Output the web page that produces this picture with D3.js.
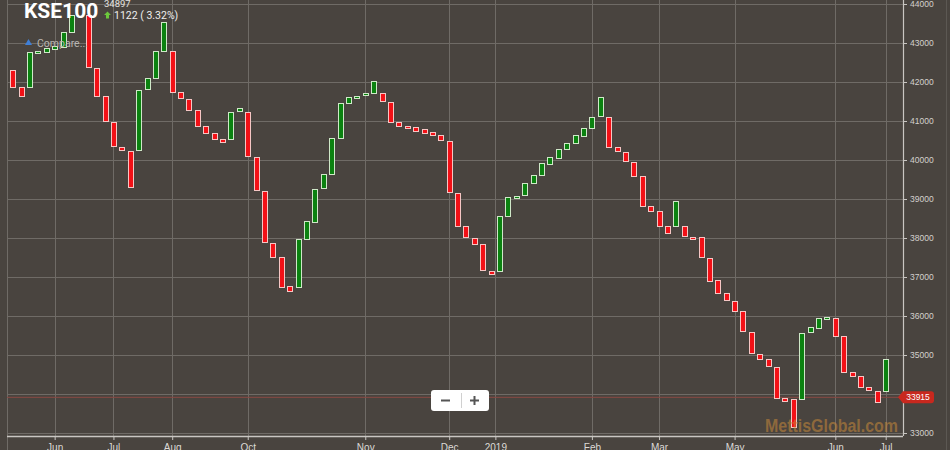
<!DOCTYPE html>
<html>
<head>
<meta charset="utf-8">
<script src="https://cdn.jsdelivr.net/npm/d3@7"></script>
<style>
  html, body { margin: 0; padding: 0; background: #48443f; }
  svg { display: block; }
</style>
</head>
<body>
<svg id="chart" width="950" height="450"></svg>
<script>
// ---- data (slot -1 .. 104; null = empty slot) ----
const opens = [42487, 42308, 41872, 41872, 42760, 42769, 42846, 42897, 43282, null,
  43718, 42359, 41641, 40974, 40333, 40231, 40256, 41821, 42103, 42795,
  42795, 41744, 41564, 41282, 40872, 40692, 40538, 40538, 41256, 41231,
  40077, 39205, 37872, 37513, 36769, 36744, 37974, 38410, 39282, 39641,
  40564, 41462, 41590, 41667, 41718, 41718, 41487, 40974, 40872, 40846,
  40795, 40718, 40641, 40487, 39154, 38308, 38000, 37846, 37154, 37154,
  38564, 39026, 39103, 39410, 39615, 39897, 40051, 40282, 40436, 40615,
  40821, 41128, 41103, 40333, 40205, 39949, 39590, 38821, 38692, 38308,
  38308, 38308, 38026, 38026, 37487, 36923, 36590, 36385, 36128, 35590,
  35026, 34897, 34692, 33897, 33872, 33872, 35590, 35692, 35923, 35949,
  35487, 34564, 34462, 34179, 34077, 34077];
const closes = [42308, 41872, 41641, 42769, 42800, 42872, 42923, 43282, 43718, null,
  42385, 41641, 41000, 40359, 40256, 39308, 41795, 42103, 42795, 43538,
  41744, 41590, 41282, 40872, 40692, 40538, 40462, 41231, 41333, 40103,
  39231, 37897, 37513, 36744, 36641, 37974, 38436, 39256, 39641, 40564,
  41462, 41615, 41641, 41718, 42026, 41513, 40974, 40872, 40821, 40744,
  40692, 40641, 40513, 39179, 38308, 38026, 37846, 37179, 37077, 38564,
  39051, 39077, 39410, 39615, 39923, 40077, 40282, 40436, 40641, 40821,
  41103, 41615, 40333, 40231, 39974, 39590, 38821, 38692, 38308, 38128,
  38949, 38051, 37974, 37513, 36897, 36590, 36410, 36128, 35615, 35051,
  34897, 34718, 33897, 33821, 33154, 35564, 35718, 35949, 35974, 35487,
  34564, 34462, 34179, 34103, 33795, 34897];
const firstSlot = -1;
const lastSlot = 104;

const tickSlots = [5, 12, 19, 28, 42, 52, 57.5, 69, 77, 86, 98, 104];
const tickLabels = ["Jun", "Jul", "Aug", "Oct", "Nov", "Dec", "2019", "Feb", "Mar", "May", "Jun", "Jul"];
const yTicks = [33000, 34000, 35000, 36000, 37000, 38000, 39000, 40000, 41000, 42000, 43000, 44000];

const title = "KSE100";
const lastValue = 34897;
const changeText = "1122 ( 3.32%)";
const priceLineValue = 33915;
const watermark = "MettisGlobal.com";

// ---- layout ----
const W = 950, H = 450;
const plot = { left: 7, right: 903, top: 0, bottom: 436 };

const svg = d3.select("#chart");
svg.append("rect").attr("width", W).attr("height", H).attr("fill", "#49443f");

const x = d3.scaleLinear().domain([0, lastSlot]).range([12.7, 885.7]);
const y = d3.scaleLinear().domain([33000, 44000]).range([433, 4]);

const gridColor = "#6f6b66";

// horizontal grid
svg.append("g").selectAll("line").data(yTicks).join("line")
  .attr("x1", plot.left).attr("x2", plot.right)
  .attr("y1", d => Math.round(y(d)) + 0.5).attr("y2", d => Math.round(y(d)) + 0.5)
  .attr("stroke", gridColor).attr("stroke-width", 1);

// vertical grid
svg.append("g").selectAll("line").data(tickSlots).join("line")
  .attr("x1", d => Math.round(x(d)) + 0.5).attr("x2", d => Math.round(x(d)) + 0.5)
  .attr("y1", plot.top).attr("y2", plot.bottom)
  .attr("stroke", gridColor).attr("stroke-width", 1);

// left border
svg.append("line").attr("x1", plot.left + 0.5).attr("x2", plot.left + 0.5)
  .attr("y1", 0).attr("y2", H).attr("stroke", gridColor);
// far right edge line
svg.append("line").attr("x1", 946.5).attr("x2", 946.5)
  .attr("y1", 0).attr("y2", H).attr("stroke", "#5c5853");

// price line
svg.append("line").attr("x1", plot.left).attr("x2", plot.right)
  .attr("y1", y(priceLineValue)).attr("y2", y(priceLineValue))
  .attr("stroke", "#8a4a44").attr("stroke-width", 1);

// candles
svg.append("clipPath").attr("id", "clip").append("rect")
  .attr("x", plot.left + 1).attr("y", 0).attr("width", plot.right - plot.left - 1).attr("height", plot.bottom);

const candles = opens.map((o, i) => ({ slot: i + firstSlot, open: o, close: closes[i] }))
  .filter(d => d.open !== null);

const cw = 5;
svg.append("g").attr("clip-path", "url(#clip)")
  .selectAll("rect").data(candles).join("rect")
  .attr("x", d => Math.round(x(d.slot) - cw / 2) + 0.5)
  .attr("y", d => Math.round(y(Math.max(d.open, d.close))) + 0.5)
  .attr("width", cw)
  .attr("height", d => Math.max(1, Math.round(Math.abs(y(d.open) - y(d.close)))))
  .attr("fill", d => d.close >= d.open ? "#0b8210" : "#f21016")
  .attr("stroke", d => d.close >= d.open ? "#cfe8c8" : "#f6c6c4")
  .attr("stroke-width", 1);

// bottom axis
const xAxis = d3.axisBottom(x).tickValues(tickSlots)
  .tickFormat((d, i) => tickLabels[i]).tickSize(4).tickSizeOuter(0);
const gx = svg.append("g").attr("transform", `translate(0,${plot.bottom})`).call(xAxis);
gx.select(".domain").attr("d", `M${plot.left},0.5H${plot.right}`).attr("stroke", "#c9c6c2").attr("stroke-width", 1.5);
gx.selectAll(".tick line").attr("stroke", "#c9c6c2");
gx.selectAll(".tick text").attr("fill", "#dcdad6").attr("font-family", "Liberation Sans, Arial, sans-serif")
  .attr("font-size", 10).attr("dy", 0).attr("y", 15);

// right axis (label hidden under the price tag, as in the reference)
const yAxis = d3.axisRight(y).tickValues(yTicks).tickFormat(d3.format("d")).tickSize(4).tickSizeOuter(0);
const gy = svg.append("g").attr("transform", `translate(${plot.right},0)`).call(yAxis);
gy.select(".domain").attr("d", `M0.5,0V${plot.bottom}`).attr("stroke", "#c9c6c2").attr("stroke-width", 1.2);
gy.selectAll(".tick line").attr("stroke", "#c9c6c2");
gy.selectAll(".tick text").attr("fill", "#d4d1cd").attr("font-family", "Liberation Sans, Arial, sans-serif")
  .attr("font-size", 8.5).attr("x", 7)
  .attr("display", d => Math.abs(y(d) - y(priceLineValue)) < 10 ? "none" : null);

// last price label
const py = y(priceLineValue);
svg.append("path")
  .attr("d", `M898,${py} L903,${py - 6} H931 Q934,${py - 6} 934,${py - 3} V${py + 3} Q934,${py + 6} 931,${py + 6} H903 Z`)
  .attr("fill", "#c8281e");
svg.append("text").attr("x", 918).attr("y", py + 3).attr("text-anchor", "middle")
  .attr("fill", "#fff").attr("font-family", "Liberation Sans, Arial, sans-serif").attr("font-size", 8.5)
  .text(priceLineValue);

// watermark
svg.append("text").attr("x", 765).attr("y", 432)
  .attr("fill", "#c98a3a").attr("fill-opacity", 0.55)
  .attr("font-family", "Liberation Sans, Arial, sans-serif").attr("font-weight", "bold")
  .attr("font-size", 18).attr("textLength", 133).attr("lengthAdjust", "spacingAndGlyphs")
  .text(watermark);

// zoom buttons
const zb = svg.append("g");
zb.append("rect").attr("x", 431).attr("y", 390).attr("width", 58).attr("height", 21).attr("rx", 3)
  .attr("fill", "#ffffff");
zb.append("line").attr("x1", 461.5).attr("x2", 461.5).attr("y1", 393).attr("y2", 408).attr("stroke", "#d0d0d0");
zb.append("rect").attr("x", 441).attr("y", 399.5).attr("width", 9).attr("height", 2).attr("fill", "#555");
zb.append("rect").attr("x", 470).attr("y", 399.5).attr("width", 9).attr("height", 2).attr("fill", "#555");
zb.append("rect").attr("x", 473.5).attr("y", 396).attr("width", 2).attr("height", 9).attr("fill", "#555");

// header
svg.append("text").attr("x", 24).attr("y", 18)
  .attr("fill", "#ffffff").attr("font-family", "Roboto, sans-serif").attr("font-weight", "bold")
  .attr("font-size", 21).text(title);
svg.append("text").attr("x", 104).attr("y", 6.5)
  .attr("fill", "#e6e4e0").attr("font-family", "Roboto, sans-serif").attr("font-size", 9.5)
  .text(lastValue);
svg.append("path").attr("d", "M107.5,11.5 L111,15 H109 V18.5 H106 V15 H104 Z").attr("fill", "#6cc83c");
svg.append("text").attr("x", 114).attr("y", 18.5)
  .attr("fill", "#eeeeee").attr("font-family", "Roboto, sans-serif").attr("font-size", 10.5)
  .text(changeText);
svg.append("path").attr("d", "M25,45 L28.5,39 L32,45 Z").attr("fill", "#3f7fd6");
svg.append("text").attr("x", 37).attr("y", 46.5)
  .attr("fill", "#b9b6b2").attr("font-family", "Roboto, sans-serif").attr("font-size", 10.5)
  .text("Compare...");
</script>
</body>
</html>
